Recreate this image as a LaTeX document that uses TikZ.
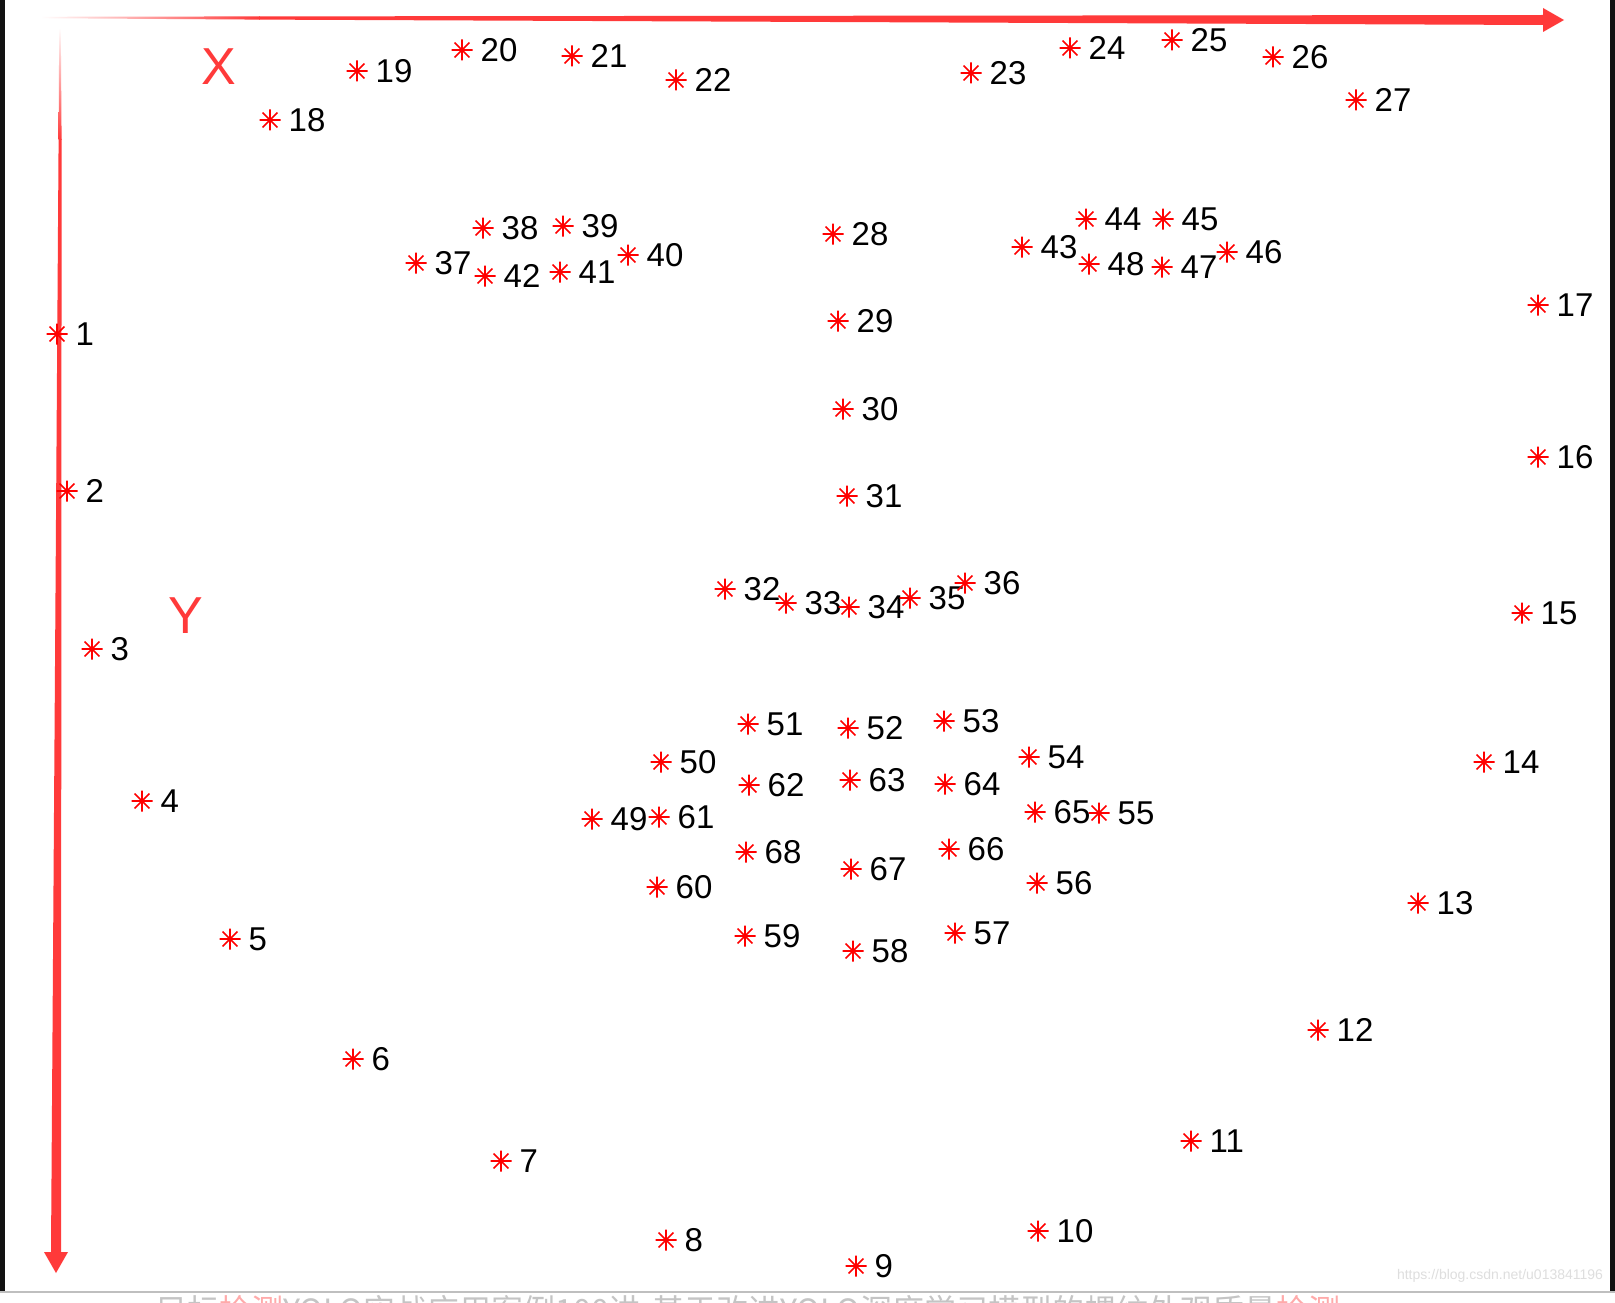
\documentclass[tikz,border=0pt]{standalone}
\usepackage{fontspec}
\setmainfont{Liberation Sans}
\newfontfamily\cjkfont{Noto Sans CJK SC}
\definecolor{axred}{RGB}{255,58,58}
\definecolor{ptred}{RGB}{255,0,0}
\definecolor{fadegray}{RGB}{196,196,196}
\definecolor{fadepink}{RGB}{255,170,170}
\tikzset{
  pstar/.pic={\draw[ptred, line width=1.6pt, line cap=butt]
      (-10.5,0)--(10.5,0) (0,-10.5)--(0,10.5)
      (-7.4,-7.4)--(7.4,7.4) (-7.4,7.4)--(7.4,-7.4);},
  lbl/.style={anchor=west, inner sep=0pt, text=black,
      font=\fontsize{33}{40}\selectfont},
  axlbl/.style={inner sep=0pt, text=axred,
      font=\fontsize{52}{60}\selectfont}
}
\begin{document}
\begin{tikzpicture}[x=1pt, y=-1pt]
\useasboundingbox (0,0) rectangle (1615,1303);
\fill[white] (0,0) rectangle (1615,1303);
% frame
\fill[black!93] (0,0) rectangle (5,1292);
\fill[black!93] (1610,0) rectangle (1615,1292);
\draw[black!25, line width=1.2pt] (0,1292) -- (1615,1292);
% clipped caption below the image
\begin{scope}
  \clip (0,1292.8) rectangle (1615,1303);
  \node[anchor=base west, inner sep=0pt, text=fadegray,
        font=\cjkfont\fontsize{32}{36}\selectfont] (cap) at (155,1322)
    {目标\textcolor{fadepink}{检测}YOLO实战应用案例100讲-基于改进YOLO深度学习模型的螺纹外观质量\textcolor{fadepink}{检测}};
\end{scope}
% watermark
\node[inner sep=0pt, text=black!13, font=\fontsize{14}{16}\selectfont] (wm) at (1500,1276) {https://blog.csdn.net/u013841196};

% X axis (tapered arrow)
\coordinate (xstart) at (41,17.5);
\coordinate (xtip) at (1564,20);
\shade[left color=white, right color=axred]
  (41,16.8) -- (260,16.4) -- (260,19.6) -- (41,18.2) -- cycle;
\fill[axred] (259,16.4) -- (1543,15) -- (1543,8) -- (xtip) -- (1543,32) -- (1543,25) -- (259,19.6) -- cycle;
% Y axis (tapered arrow)
\coordinate (ystart) at (60,28);
\coordinate (ytip) at (56,1273);
\shade[top color=white, bottom color=axred]
  (59.2,28) -- (60.8,28) -- (61.6,140) -- (58.6,140) -- cycle;
\fill[axred] (58.6,139) -- (61.6,139) -- (61,1252) -- (68,1252) -- (ytip) -- (44,1252) -- (51,1252) -- cycle;

\node[axlbl] (xl) at (219,67) {X};
\node[axlbl] (yl) at (186,616) {Y};

% landmarks
\foreach \i/\x/\y in {
 1/57/334, 2/67/491, 3/92/649, 4/142/801, 5/230/939, 6/353/1059,
 7/501/1161, 8/666/1240, 9/856/1266, 10/1038/1231, 11/1191/1141,
 12/1318/1030, 13/1418/903, 14/1484/762, 15/1522/613, 16/1538/457,
 17/1538/305, 18/270/120, 19/357/71, 20/462/50, 21/572/56, 22/676/80,
 23/971/73, 24/1070/48, 25/1172/40, 26/1273/57, 27/1356/100,
 28/833/234, 29/838/321, 30/843/409, 31/847/496,
 32/725/589, 33/786/603, 34/849/607, 35/910/598, 36/965/583,
 37/416/263, 38/483/228, 39/563/226, 40/628/255, 41/560/272, 42/485/276,
 43/1022/247, 44/1086/219, 45/1163/219, 46/1227/252, 47/1162/267, 48/1089/264,
 49/592/819, 50/661/762, 51/748/724, 52/848/728, 53/944/721, 54/1029/757,
 55/1099/813, 56/1037/883, 57/955/933, 58/853/951, 59/745/936, 60/657/887,
 61/659/817, 62/749/785, 63/850/780, 64/945/784, 65/1035/812, 66/949/849,
 67/851/869, 68/746/852}
{
  \coordinate (p\i) at (\x,\y);
  \pic at (p\i) {pstar};
  \node[lbl] (l\i) at ([xshift=18.5pt]p\i) {\i};
}
\end{tikzpicture}
\end{document}
